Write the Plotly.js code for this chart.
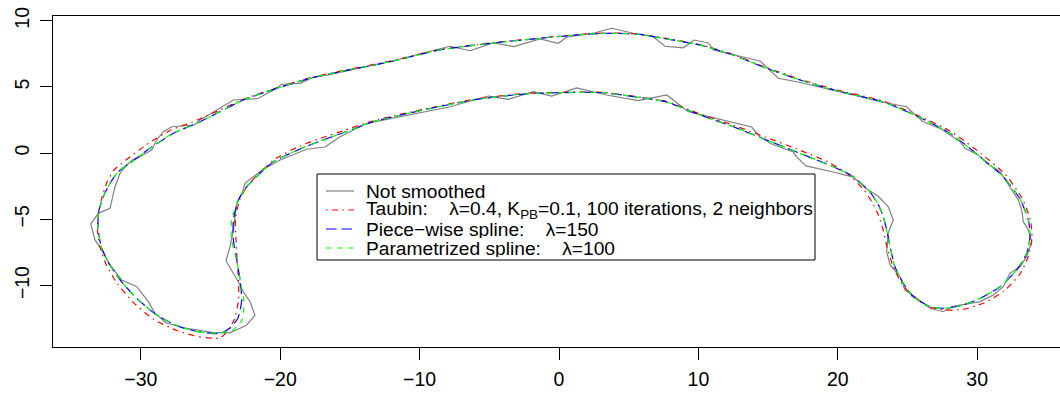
<!DOCTYPE html>
<html>
<head>
<meta charset="utf-8">
<script src="https://cdn.plot.ly/plotly-3.0.1.min.js"></script>
<style>
html,body{margin:0;padding:0;background:#fff;overflow:hidden}
#chart{width:1060px;height:395px}
</style>
</head>
<body>
<div id="chart"></div>
<script>
// ---------------- data ----------------
const notSmoothedX = [-23.60,-24.80,-26.71,-28.14,-28.98,-29.46,-30.29,-31.37,-32.21,-32.80,
-33.29,-33.59,-33.05,-32.21,-31.85,-31.49,-31.01,-30.54,-30.06,-29.22,
-28.86,-28.39,-27.78,-26.16,-25.75,-24.56,-23.36,-21.93,-21.57,-20.25,
-19.89,-18.58,-17.63,-16.55,-14.28,-13.79,-11.64,-8.90,-7.82,-6.38,
-4.71,-3.23,-1.36,-0.05,0.55,2.58,3.78,5.33,6.77,7.60,
8.92,9.68,10.71,11.07,14.42,15.73,17.05,20.88,23.03,24.94,
25.42,26.13,27.45,28.77,29.13,30.08,30.68,31.64,32.95,33.19,
33.31,33.67,33.91,33.55,33.07,32.35,31.87,31.16,30.20,28.17,
27.57,26.61,25.54,24.82,24.46,23.75,23.51,23.62,23.98,23.62,
22.88,22.07,21.11,19.68,17.72,17.05,16.81,15.26,14.42,13.82,
11.31,9.88,9.28,7.73,5.69,3.42,1.27,-0.52,-1.84,-3.64,
-5.07,-7.82,-10.09,-13.79,-15.71,-16.79,-18.10,-20.01,-21.31,-22.53,
-22.69,-23.12,-23.36,-23.60,-23.89,-23.48,-23.08,-22.65,-22.17,-21.81,
-22.40,-22.88,-23.60];
const notSmoothedY = [-13.56,-13.56,-13.23,-12.85,-12.10,-11.22,-10.09,-9.58,-8.45,-7.32,
-6.56,-5.35,-4.55,-4.17,-2.54,-1.53,-0.90,-0.47,-0.27,0.23,
0.99,1.62,1.99,2.12,2.50,3.26,4.01,4.09,4.14,4.89,
5.20,5.27,5.73,5.90,6.40,6.53,7.03,7.79,8.07,7.73,
8.32,8.04,8.62,8.29,8.75,9.09,9.43,9.05,8.79,8.07,
7.95,8.54,8.32,7.79,6.96,5.65,5.39,4.46,3.88,3.50,
3.01,2.37,1.80,0.86,0.36,-0.14,-0.77,-1.40,-3.54,-4.30,
-5.18,-5.81,-6.69,-7.82,-8.58,-9.08,-10.09,-10.72,-11.22,-11.60,
-11.98,-11.72,-10.85,-10.34,-9.34,-8.45,-7.45,-6.03,-5.05,-4.05,
-3.24,-2.71,-1.81,-1.43,-0.97,-0.29,0.08,0.69,1.22,1.97,
2.63,2.95,3.13,4.39,3.96,4.39,4.92,4.31,4.64,4.06,
4.31,3.50,3.01,2.25,1.24,0.46,0.29,-0.52,-1.28,-2.28,
-2.92,-3.79,-5.81,-7.07,-8.13,-8.83,-9.58,-10.47,-11.22,-12.23,
-12.98,-13.23,-13.56];

const taubinX = [-24.32,-25.75,-27.33,-29.12,-30.56,-31.71,-32.50,-32.93,-33.11,-33.03,
-32.78,-32.42,-31.92,-31.06,-29.63,-27.90,-26.11,-24.32,-22.65,-20.25,
-17.86,-15.71,-12.12,-8.54,-4.95,-1.36,2.22,4.02,5.81,7.48,
10.12,12.48,14.90,17.29,19.68,23.26,25.66,28.05,30.27,31.99,
33.21,33.82,33.93,33.68,33.07,31.92,30.49,28.98,27.69,26.61,
25.32,24.53,23.96,23.53,23.24,22.88,22.45,21.88,20.73,19.30,
17.07,14.78,12.48,10.12,7.73,5.33,3.18,1.03,-2.56,-6.15,
-9.73,-13.32,-15.35,-17.14,-18.58,-20.37,-21.38,-22.31,-22.88,-23.21,
-23.17,-23.10,-22.99,-22.99,-23.31,-23.96,-24.32];
const taubinY = [-13.97,-13.89,-13.44,-12.53,-11.25,-9.81,-8.38,-7.09,-5.81,-4.53,
-3.32,-2.18,-1.28,-0.52,0.61,1.71,2.42,3.26,4.06,4.93,
5.69,6.19,6.94,7.82,8.32,8.69,9.02,9.07,8.98,8.70,
8.19,7.45,6.45,5.58,4.83,3.93,2.88,1.67,-0.03,-1.58,
-3.39,-5.05,-6.41,-7.77,-9.13,-10.42,-11.32,-11.81,-11.85,-11.62,
-10.79,-9.74,-8.53,-7.09,-5.73,-4.60,-3.69,-2.79,-1.58,-0.67,
0.31,1.22,2.12,2.95,3.90,4.30,4.59,4.61,4.50,4.05,
3.31,2.44,1.74,1.10,0.54,-0.45,-1.39,-2.41,-3.47,-4.90,
-6.56,-8.07,-9.58,-11.10,-12.61,-13.66,-13.97];

const pieceWiseX = [-24.32,-25.75,-27.19,-28.86,-30.29,-31.49,-32.35,-32.85,-33.05,-33.05,
-32.69,-32.21,-31.64,-30.77,-29.34,-27.67,-25.99,-24.32,-22.65,-20.25,
-17.86,-15.71,-12.12,-8.54,-4.95,-1.36,2.22,4.02,5.81,7.48,
10.12,12.48,14.90,17.29,19.68,23.26,25.66,28.05,30.20,31.87,
33.07,33.67,33.79,33.55,32.83,31.64,30.20,28.77,27.57,26.61,
25.42,24.70,24.10,23.75,23.51,23.26,22.88,22.31,21.11,19.68,
17.29,14.90,12.50,10.12,7.73,5.33,3.18,1.03,-2.56,-6.15,
-9.73,-13.32,-15.35,-17.14,-18.58,-20.49,-21.45,-22.40,-23.00,-23.36,
-23.36,-23.12,-22.88,-22.76,-23.03,-23.60,-24.32];
const pieceWiseY = [-13.63,-13.51,-13.13,-12.23,-10.97,-9.58,-8.23,-7.02,-5.81,-4.55,
-3.29,-2.28,-1.43,-0.75,0.36,1.50,2.25,3.13,4.01,4.89,
5.65,6.15,6.90,7.79,8.29,8.67,9.00,9.05,8.96,8.67,
8.16,7.41,6.40,5.52,4.77,3.86,2.80,1.50,-0.27,-1.78,
-3.47,-5.05,-6.31,-7.57,-8.83,-10.09,-10.97,-11.55,-11.72,-11.60,
-10.85,-9.83,-8.58,-7.07,-5.81,-4.80,-3.84,-2.94,-1.78,-1.03,
-0.02,0.99,1.99,2.88,3.86,4.27,4.56,4.58,4.46,4.01,
3.26,2.37,1.59,0.91,0.31,-0.65,-1.53,-2.54,-3.54,-5.05,
-6.56,-8.07,-9.58,-11.10,-12.45,-13.21,-13.63];

const parametrizedX = [-24.32,-25.75,-27.19,-28.86,-30.29,-31.49,-32.35,-32.85,-33.05,-33.05,
-32.69,-32.21,-31.64,-30.77,-29.34,-27.67,-25.99,-24.32,-22.65,-20.25,
-17.86,-15.71,-12.12,-8.54,-4.95,-1.36,2.22,4.02,5.81,7.48,
10.12,12.48,14.90,17.29,19.68,23.26,25.66,28.05,30.20,31.87,
33.07,33.67,33.79,33.55,32.83,31.64,30.20,28.77,27.57,26.61,
25.42,24.70,24.10,23.75,23.51,23.26,22.88,22.31,21.11,19.68,
17.29,14.90,12.50,10.12,7.73,5.33,3.18,1.03,-2.56,-6.15,
-9.73,-13.32,-15.35,-17.14,-18.58,-20.49,-21.45,-22.40,-23.00,-23.49,
-23.49,-23.12,-22.88,-22.60,-22.74,-23.39,-24.32];
const parametrizedY = [-13.60,-13.51,-13.13,-12.23,-10.97,-9.58,-8.23,-7.02,-5.81,-4.55,
-3.29,-2.28,-1.43,-0.75,0.36,1.50,2.25,3.13,4.01,4.89,
5.65,6.15,6.90,7.79,8.29,8.67,9.00,9.05,8.96,8.67,
8.16,7.41,6.40,5.52,4.77,3.86,2.80,1.50,-0.27,-1.78,
-3.47,-5.05,-6.31,-7.57,-8.83,-10.09,-10.97,-11.55,-11.72,-11.60,
-10.85,-9.83,-8.58,-7.07,-5.81,-4.80,-3.84,-2.94,-1.78,-1.03,
-0.02,0.99,1.99,2.88,3.86,4.27,4.56,4.58,4.46,4.01,
3.26,2.37,1.59,0.91,0.31,-0.65,-1.53,-2.54,-3.54,-5.05,
-6.56,-8.07,-9.58,-11.25,-12.61,-13.36,-13.60];

const xTicks = [-30,-20,-10,0,10,20,30];
const yTicks = [-10,-5,0,5,10];
const legendLabels = [
  "Not smoothed",
  "Taubin:\u00a0\u00a0\u00a0\u00a0λ=0.4, K<sub>PB</sub>=0.1, 100 iterations, 2 neighbors",
  "Piece\u2212wise spline:\u00a0\u00a0\u00a0\u00a0λ=150",
  "Parametrized spline:\u00a0\u00a0\u00a0\u00a0λ=100"
];

// ---------------- styles ----------------
const FONT = "'Liberation Sans', Arial, Helvetica, sans-serif";
const styles = [
  {color:"#808080", dash:"solid", width:1.2, shape:"linear"},
  {color:"#FF0000", dash:"1.5px,4.5px,6px,4.5px", width:1.2, shape:"spline"},
  {color:"#0000FF", dash:"10.5px,5px", width:1.2, shape:"spline"},
  {color:"#00FF00", dash:"5.5px,5.5px", width:1.2, shape:"spline"}
];
const seriesXs = [notSmoothedX, taubinX, pieceWiseX, parametrizedX];
const seriesYs = [notSmoothedY, taubinY, pieceWiseY, parametrizedY];

const traces = seriesXs.map((xs,i)=>({
  type:"scatter", mode:"lines", x:xs, y:seriesYs[i],
  name:legendLabels[i], showlegend:false, hoverinfo:"skip",
  line:{color:styles[i].color, dash:styles[i].dash, width:styles[i].width,
        shape:styles[i].shape, smoothing:0.6}
}));

// ---------------- layout ----------------
const W=1060, H=395, ML=53, MR=0, MT=16, MB=48;
const px2x = p => (p-ML)/(W-ML-MR);
const px2y = p => (H-MB-p)/(H-MT-MB);

const shapes = [{
  type:"rect", xref:"paper", yref:"paper",
  x0:px2x(317), x1:px2x(815), y0:px2y(260), y1:px2y(174),
  line:{color:"#000", width:1}, fillcolor:"#fff", layer:"above"
}];
const annotations = [];
const rowY = [191, 210, 229, 248];
rowY.forEach((ry,i)=>{
  shapes.push({type:"line", xref:"paper", yref:"paper",
    x0:px2x(326), x1:px2x(354), y0:px2y(ry), y1:px2y(ry),
    line:{color:styles[i].color, width:1.2, dash:styles[i].dash}, layer:"above"});
  annotations.push({xref:"paper", yref:"paper", x:px2x(365), y:px2y(ry),
    xanchor:"left", yanchor:"middle", showarrow:false, text:legendLabels[i],
    height:18, valign:"middle",
    font:{family:FONT, size:19.2, color:"#000"}, borderpad:0});
});

const axisCommon = {
  ticks:"outside", ticklen:12, tickwidth:1, tickcolor:"#000",
  showline:true, linecolor:"#000", linewidth:1,
  showgrid:false, zeroline:false, tickmode:"array",
  tickfont:{family:FONT, size:19.5, color:"#000"}
};
const layout = {
  width:W, height:H,
  margin:{l:ML, r:MR, t:MT, b:MB, pad:0},
  paper_bgcolor:"#fff", plot_bgcolor:"#fff",
  showlegend:false,
  xaxis:Object.assign({}, axisCommon, {range:[-36.30,35.94], tickvals:xTicks, mirror:true, ticklabelstandoff:3}),
  yaxis:Object.assign({}, axisCommon, {range:[-14.645,10.355], tickvals:yTicks, tickangle:-90, mirror:false, ticklabelstandoff:3}),
  shapes:shapes, annotations:annotations
};
Plotly.newPlot("chart", traces, layout, {displayModeBar:false, staticPlot:true});
</script>
</body>
</html>
